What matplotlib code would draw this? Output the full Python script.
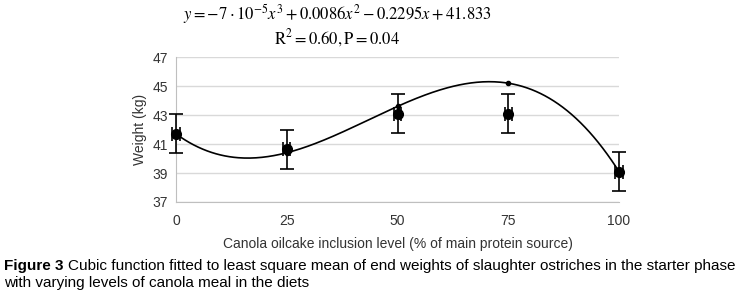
import matplotlib
matplotlib.use("Agg")
import matplotlib.pyplot as plt
import numpy as np

# canola inclusion level (%), LS means of end weight and their SE
levels = [0, 25, 50, 75, 100]
weight = [41.7, 40.65, 43.1, 43.1, 39.1]
weight_err = [1.35, 1.35, 1.35, 1.35, 1.35]
# fitted values of the cubic at each level
fitted = [41.7, 40.4, 43.6, 45.2, 39.1]
yticks = [37, 39, 41, 43, 45, 47]

plt.rcParams["font.family"] = ["Liberation Sans", "DejaVu Sans"]
plt.rcParams["mathtext.fontset"] = "stix"

fig = plt.figure(figsize=(7.44, 2.96), dpi=100)
ax = fig.add_axes([0.2366, 0.3176, 0.5954, 0.4894])

coef = np.polyfit(levels, fitted, 3)
xs = np.linspace(0, 100, 300)
ax.plot(xs, np.polyval(coef, xs), color="black", lw=1.2, zorder=3, clip_on=False)
ax.plot(levels, fitted, "o", color="black", ms=3, zorder=3, clip_on=False)
ax.errorbar(levels, weight, yerr=weight_err, xerr=0.8, fmt="o", color="black",
            ms=7, capsize=5, elinewidth=1.2, capthick=1.2, zorder=4, clip_on=False)

ax.set_xlim(0, 100)
ax.set_ylim(37, 47)
ax.set_xticks(levels)
ax.set_yticks(yticks)
ax.grid(axis="y", color="#d9d9d9", lw=1)
ax.set_axisbelow(True)
for s in ["top", "right"]:
    ax.spines[s].set_visible(False)
for s in ["left", "bottom"]:
    ax.spines[s].set_color("#bfbfbf")
ax.tick_params(length=0, labelsize=10, colors="#333333", pad=9)
ax.tick_params(axis="y", pad=6)
ax.set_xlabel("Canola oilcake inclusion level (% of main protein source)",
              fontsize=10, color="#333333", labelpad=6)
ax.set_ylabel("Weight (kg)", fontsize=10, color="#333333", labelpad=4)

fig.text(0.453, 0.953, r"$y = -7\cdot10^{-5}x^3 + 0.0086x^2 - 0.2295x + 41.833$",
         ha="center", va="center", fontsize=12)
fig.text(0.453, 0.872, r"$\mathrm{R}^2 = 0.60, \mathrm{P} = 0.04$",
         ha="center", va="center", fontsize=12)

cap_size = 11
t = fig.text(0.006, 0.088, "Figure 3", fontsize=cap_size, fontweight="bold")
fig.canvas.draw()
bb = t.get_window_extent(fig.canvas.get_renderer())
x0 = (bb.x1 + 4) / fig.bbox.width
fig.text(x0, 0.088, "Cubic function fitted to least square mean of end weights of slaughter ostriches in the starter phase",
         fontsize=cap_size)
fig.text(0.006, 0.03, "with varying levels of canola meal in the diets", fontsize=cap_size)

fig.savefig("out.png", dpi=100)
